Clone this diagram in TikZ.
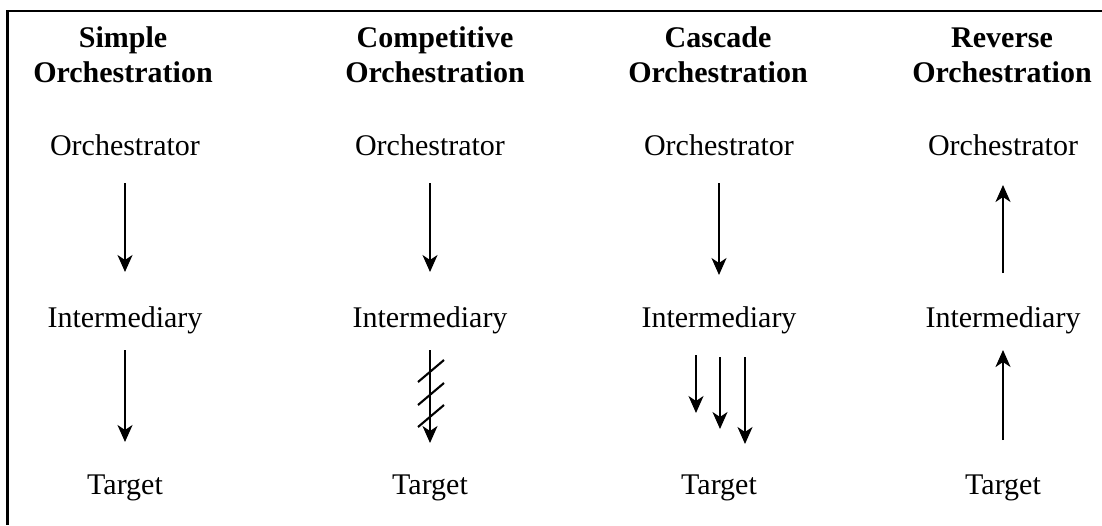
\documentclass[tikz,border=0pt]{standalone}
\usepackage{fontspec}
\setmainfont{Liberation Serif}
\usetikzlibrary{arrows.meta,calc}
\begin{document}
\begin{tikzpicture}[x=1pt,y=-1pt,
  lbl/.style={anchor=base,inner sep=0pt,font=\fontsize{30pt}{35pt}\selectfont},
  ttl/.style={anchor=base,inner sep=0pt,align=center,font=\fontsize{30pt}{35pt}\selectfont\bfseries},
  arr/.style={line width=2.1pt,-{Stealth[length=17pt,width=15pt,inset=5pt]}},
  hatch/.style={line width=2.1pt},
  frame/.style={line width=2.4pt}]
\useasboundingbox (0,0) rectangle (1102,525);
\draw[frame] (1102,11) -- (7.5,11) -- (7.5,525);
% titles (base = baseline of second line)
\node[ttl] (t1) at (123,82) {Simple\\Orchestration};
\node[ttl] (t2) at (435,82) {Competitive\\Orchestration};
\node[ttl] (t3) at (718,82) {Cascade\\Orchestration};
\node[ttl] (t4) at (1002,82) {Reverse\\Orchestration};
% rows
\foreach \i/\x in {1/125,2/430,3/719,4/1003}{
  \node[lbl] (o\i) at (\x,155) {Orchestrator};
  \node[lbl] (m\i) at (\x,327) {Intermediary};
  \node[lbl] (g\i) at (\x,494) {Target};
}
% simple
\draw[arr] ([yshift=-28pt]o1.base) -- ([yshift=55pt]m1.base);
\draw[arr] ([yshift=-23pt]m1.base) -- ([yshift=52pt]g1.base);
% competitive
\draw[arr] ([yshift=-28pt]o2.base) -- ([yshift=55pt]m2.base);
\draw[arr] ([yshift=-23pt]m2.base) -- ([yshift=51pt]g2.base);
\foreach \yy in {371,394,416}{
  \draw[hatch] (418,\yy+11) -- (444,\yy-11);
}
% cascade
\draw[arr] ([yshift=-28pt]o3.base) -- ([yshift=52pt]m3.base);
\draw[arr] ([xshift=-23pt,yshift=-28pt]m3.base) -- ([xshift=-23pt,yshift=81pt]g3.base);
\draw[arr] ([xshift=1pt,yshift=-30pt]m3.base) -- ([xshift=1pt,yshift=65pt]g3.base);
\draw[arr] ([xshift=26pt,yshift=-30pt]m3.base) -- ([xshift=26pt,yshift=50pt]g3.base);
% reverse
\draw[arr] ([yshift=54pt]m4.base) -- ([yshift=-30pt]o4.base);
\draw[arr] ([yshift=54pt]g4.base) -- ([yshift=-23pt]m4.base);
\end{tikzpicture}
\end{document}
